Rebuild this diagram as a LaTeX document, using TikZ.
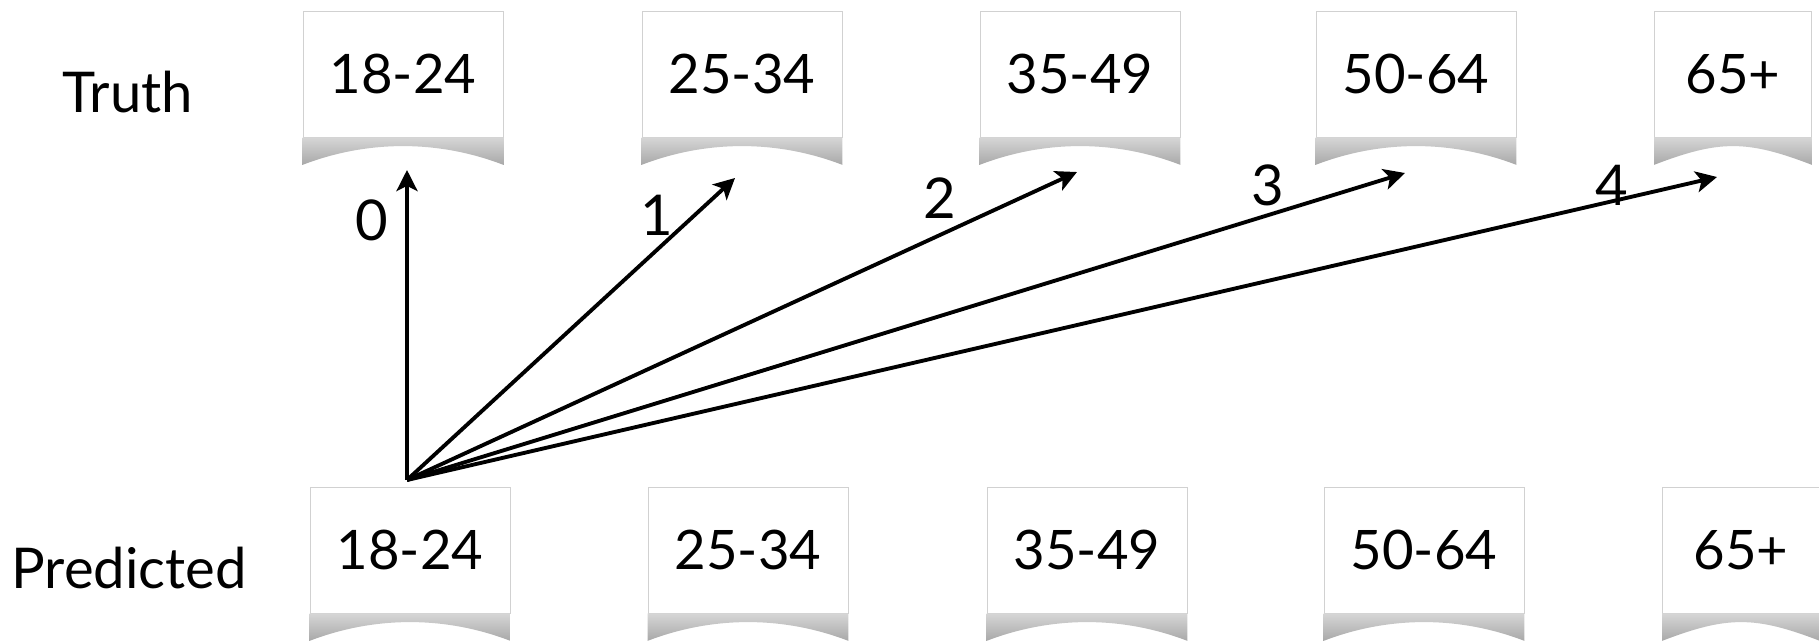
\documentclass[tikz,border=0pt]{standalone}
\usepackage{fontspec}
\setmainfont{Lato}
\usepackage{tikz}
\usetikzlibrary{
    positioning,
    arrows.meta
}
\tikzset{
    >={Stealth[length=12pt,width=12pt,inset=3pt]},
    caja/.style={
        draw=black!18,
        line width=0.4pt,
        fill=white,
        minimum width=4cm,
        minimum height=2.52cm,
        inner sep=0pt,
        font=\fontsize{31}{38}\selectfont
    },
    etiqueta/.style={
        font=\fontsize{32}{38}\selectfont,
        inner sep=0pt,
        anchor=base
    },
    vector/.style={->, line width=2.2pt},
    sombra/.style={top color=black!16, bottom color=black!34}
}

\begin{document}
\begin{tikzpicture}[
    x=0.02cm,
    y=-0.02cm
]
    \useasboundingbox (0,0) rectangle (1819,643);

    % Filas
    \node[etiqueta] (truth) at (128,112) {Truth};
    \node[etiqueta] (pred)  at (129,588) {Predicted};

    % Cajas
    \node[caja] (t1) at (403,74)  {18-24};
    \node[caja] (t2) at (742,74)  {25-34};
    \node[caja] (t3) at (1080,74) {35-49};
    \node[caja] (t4) at (1416,74) {50-64};
    \node[caja, minimum width=3.14cm] (t5) at (1733,74) {65+};

    \node[caja] (p1) at (410,550)  {18-24};
    \node[caja] (p2) at (748,550)  {25-34};
    \node[caja] (p3) at (1087,550) {35-49};
    \node[caja] (p4) at (1424,550) {50-64};
    \node[caja, minimum width=3.14cm] (p5) at (1741,550) {65+};

    % Sombras
    \foreach \n in {t1,t2,t3,t4,t5,p1,p2,p3,p4,p5}
        \shade[sombra] (\n.south west)
            -- ([yshift=-0.55cm]\n.south west)
            .. controls ([xshift=1.3cm,yshift=-0.05cm]\n.south west)
                    and ([xshift=-1.3cm,yshift=-0.05cm]\n.south east)
            .. ([yshift=-0.55cm]\n.south east)
            -- (\n.south east) -- cycle;

    % Flechas
    \coordinate (o)  at (407,480);
    \coordinate (h0) at (407,170);
    \coordinate (h1) at (735,178);
    \coordinate (h2) at (1077,172);
    \coordinate (h3) at (1405,173);
    \coordinate (h4) at (1717,177);

    \draw[vector] (o) -- (h0);
    \draw[vector] (o) -- (h1);
    \draw[vector] (o) -- (h2);
    \draw[vector] (o) -- (h3);
    \draw[vector] (o) -- (h4);

    \node[etiqueta] (d0) at (372,240)  {0};
    \node[etiqueta] (d1) at (657,235)  {1};
    \node[etiqueta] (d2) at (940,218)  {2};
    \node[etiqueta] (d3) at (1268,205) {3};
    \node[etiqueta] (d4) at (1612,205) {4};

\end{tikzpicture}
\end{document}
